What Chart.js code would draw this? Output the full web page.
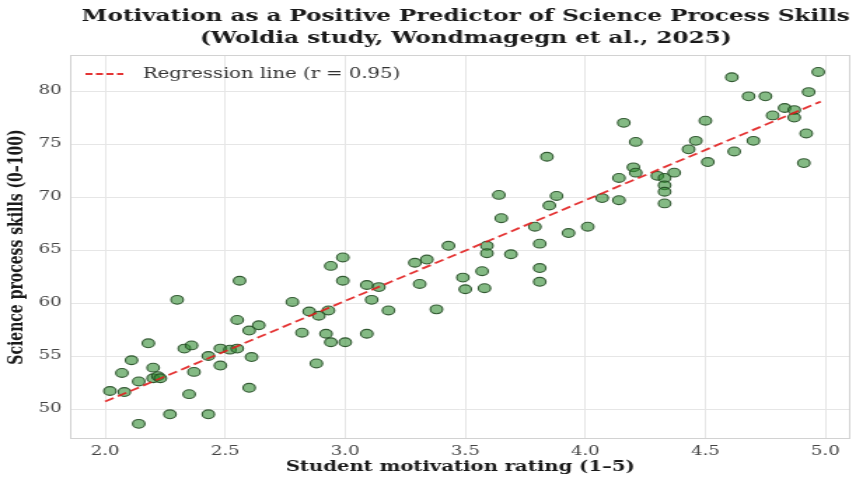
<!DOCTYPE html>
<html>
<head>
<meta charset="utf-8">
<script src="https://cdn.jsdelivr.net/npm/chart.js@4.4.1/dist/chart.umd.min.js"></script>
<style>
  html, body { margin: 0; padding: 0; background: #ffffff; overflow: hidden; }
  #wrap { width: 616px; height: 481px; transform: scaleX(1.401); transform-origin: 0 0; }
  canvas { display: block; }
</style>
</head>
<body>
<div id="wrap"><canvas id="c" width="616" height="481"></canvas></div>
<script>
// ---- Data ----
const motivation = [
  2.02, 2.07, 2.08, 2.11, 2.14, 2.14, 2.18, 2.20, 2.20, 2.22,
  2.23, 2.30, 2.27, 2.33, 2.35, 2.36, 2.37, 2.43, 2.43, 2.48,
  2.48, 2.52, 2.55, 2.56, 2.55, 2.60, 2.60, 2.61, 2.64, 2.78,
  2.82, 2.85, 2.89, 2.93, 2.88, 2.92, 2.94, 3.00, 2.94, 2.99,
  2.99, 3.09, 3.09, 3.14, 3.11, 3.18, 3.29, 3.34, 3.31, 3.38,
  3.43, 3.49, 3.50, 3.57, 3.58, 3.59, 3.59, 3.64, 3.65, 3.69,
  3.79, 3.81, 3.81, 3.81, 3.84, 3.85, 3.88, 3.93, 4.01, 4.07,
  4.14, 4.14, 4.16, 4.20, 4.21, 4.21, 4.30, 4.33, 4.33, 4.33,
  4.33, 4.37, 4.43, 4.46, 4.50, 4.51, 4.61, 4.62, 4.68, 4.70,
  4.75, 4.78, 4.83, 4.87, 4.87, 4.91, 4.92, 4.93, 4.97
];
const skills = [
  51.7, 53.4, 51.6, 54.6, 52.6, 48.6, 56.2, 53.9, 52.9, 53.1,
  52.9, 60.3, 49.5, 55.7, 51.4, 56.0, 53.5, 49.5, 55.0, 54.1,
  55.7, 55.6, 55.7, 62.1, 58.4, 57.4, 52.0, 54.9, 57.9, 60.1,
  57.2, 59.2, 58.8, 59.3, 54.3, 57.1, 56.3, 56.3, 63.5, 64.3,
  62.1, 57.1, 61.7, 61.5, 60.3, 59.3, 63.8, 64.1, 61.8, 59.4,
  65.4, 62.4, 61.3, 63.0, 61.4, 65.4, 64.7, 70.2, 68.0, 64.6,
  67.2, 65.6, 63.3, 62.0, 73.8, 69.2, 70.1, 66.6, 67.2, 69.9,
  71.8, 69.7, 77.0, 72.8, 72.3, 75.2, 72.0, 71.8, 71.1, 70.5,
  69.4, 72.3, 74.5, 75.3, 77.2, 73.3, 81.3, 74.3, 79.5, 75.3,
  79.5, 77.7, 78.4, 78.2, 77.5, 73.2, 76.0, 79.9, 81.8
];
const regressionX = [2.00, 4.98];
const regressionY = [50.7, 79.0];
const regressionLabel = 'Regression line (r = 0.95)';
const xTicks = [2.0, 2.5, 3.0, 3.5, 4.0, 4.5, 5.0];
const xTickLabels = ['2.0', '2.5', '3.0', '3.5', '4.0', '4.5', '5.0'];
const yTicks = [50, 55, 60, 65, 70, 75, 80];
const yTickLabels = ['50', '55', '60', '65', '70', '75', '80'];
const titleLines = ['Motivation as a Positive Predictor of Science Process Skills',
                    '(Woldia study, Wondmagegn et al., 2025)'];
const xLabel = 'Student motivation rating (1–5)';
const yLabel = 'Science process skills (0–100)';

const SERIF = '"DejaVu Serif", "Liberation Serif", serif';

const decor = {
  id: 'decor',
  beforeDatasetsDraw(chart) {
    const {ctx, chartArea: a} = chart;
    ctx.save();
    ctx.strokeStyle = '#d2d2d2';
    ctx.lineWidth = 1;
    ctx.strokeRect(a.left + 0.5, a.top + 0.5, a.right - a.left - 1, a.bottom - a.top - 1);
    ctx.restore();
  },
  afterDraw(chart) {
    const {ctx, chartArea: a} = chart;
    ctx.save();
    // title
    ctx.fillStyle = '#1a1a1a';
    ctx.font = 'bold 16.5px ' + SERIF;
    ctx.textAlign = 'center';
    ctx.textBaseline = 'middle';
    const cx = (a.left + a.right) / 2 + 4;
    ctx.fillText(titleLines[0], cx, 17);
    ctx.fillText(titleLines[1], cx, 39);
    // legend (no frame, seaborn style)
    const ly = 74;
    ctx.strokeStyle = 'rgba(225,30,30,0.9)';
    ctx.lineWidth = 1.8;
    ctx.setLineDash([5, 2.5]);
    ctx.beginPath();
    ctx.moveTo(a.left + 11, ly);
    ctx.lineTo(a.left + 38, ly);
    ctx.stroke();
    ctx.setLineDash([]);
    ctx.fillStyle = '#333333';
    ctx.font = '14px ' + SERIF;
    ctx.textAlign = 'left';
    ctx.fillText(regressionLabel, a.left + 52, ly);
    ctx.restore();
  }
};

new Chart(document.getElementById('c'), {
  type: 'scatter',
  data: {
    datasets: [
      {
        label: regressionLabel,
        data: regressionX.map((x, i) => ({x: x, y: regressionY[i]})),
        showLine: true,
        borderColor: 'rgba(225,30,30,0.9)',
        borderWidth: 1.8,
        borderDash: [7, 3.5],
        pointRadius: 0,
        fill: false,
        order: 0
      },
      {
        label: 'Students',
        data: motivation.map((x, i) => ({x: x, y: skills[i]})),
        backgroundColor: 'rgba(50,140,50,0.6)',
        borderColor: 'rgba(35,75,35,0.9)',
        borderWidth: 1.1,
        pointRadius: 4.4,
        order: 1
      }
    ]
  },
  options: {
    responsive: false,
    animation: false,
    devicePixelRatio: 1,
    layout: { padding: { top: 55, right: 9, left: 0, bottom: 0 } },
    plugins: {
      legend: { display: false },
      title: { display: false },
      tooltip: { enabled: false }
    },
    scales: {
      x: {
        type: 'linear',
        min: 1.854,
        max: 5.104,
        afterBuildTicks: (s) => { s.ticks = xTicks.map(v => ({value: v})); },
        afterFit: (s) => { s.height = 42; },
        grid: { color: '#e6e6e6', lineWidth: 1, drawTicks: false },
        border: { display: false },
        ticks: {
          autoSkip: false,
          maxRotation: 0,
          padding: 5,
          color: '#444444',
          font: { family: SERIF, size: 13 },
          callback: (v, i) => xTickLabels[i]
        },
        title: {
          display: true,
          text: xLabel,
          color: '#1a1a1a',
          font: { family: SERIF, size: 14, weight: 'bold' },
          padding: { top: 0, bottom: 5 }
        }
      },
      y: {
        type: 'linear',
        min: 47.17,
        max: 83.4,
        afterBuildTicks: (s) => { s.ticks = yTicks.map(v => ({value: v})); },
        afterFit: (s) => { s.width = 50; },
        grid: { color: '#e6e6e6', lineWidth: 1, drawTicks: false },
        border: { display: false },
        ticks: {
          autoSkip: false,
          padding: 6,
          color: '#444444',
          font: { family: SERIF, size: 13 },
          callback: (v, i) => yTickLabels[i]
        },
        title: {
          display: true,
          text: yLabel,
          color: '#1a1a1a',
          font: { family: SERIF, size: 14, weight: 'bold' },
          padding: { top: 4, bottom: 0 }
        }
      }
    }
  },
  plugins: [decor]
});
</script>
</body>
</html>
